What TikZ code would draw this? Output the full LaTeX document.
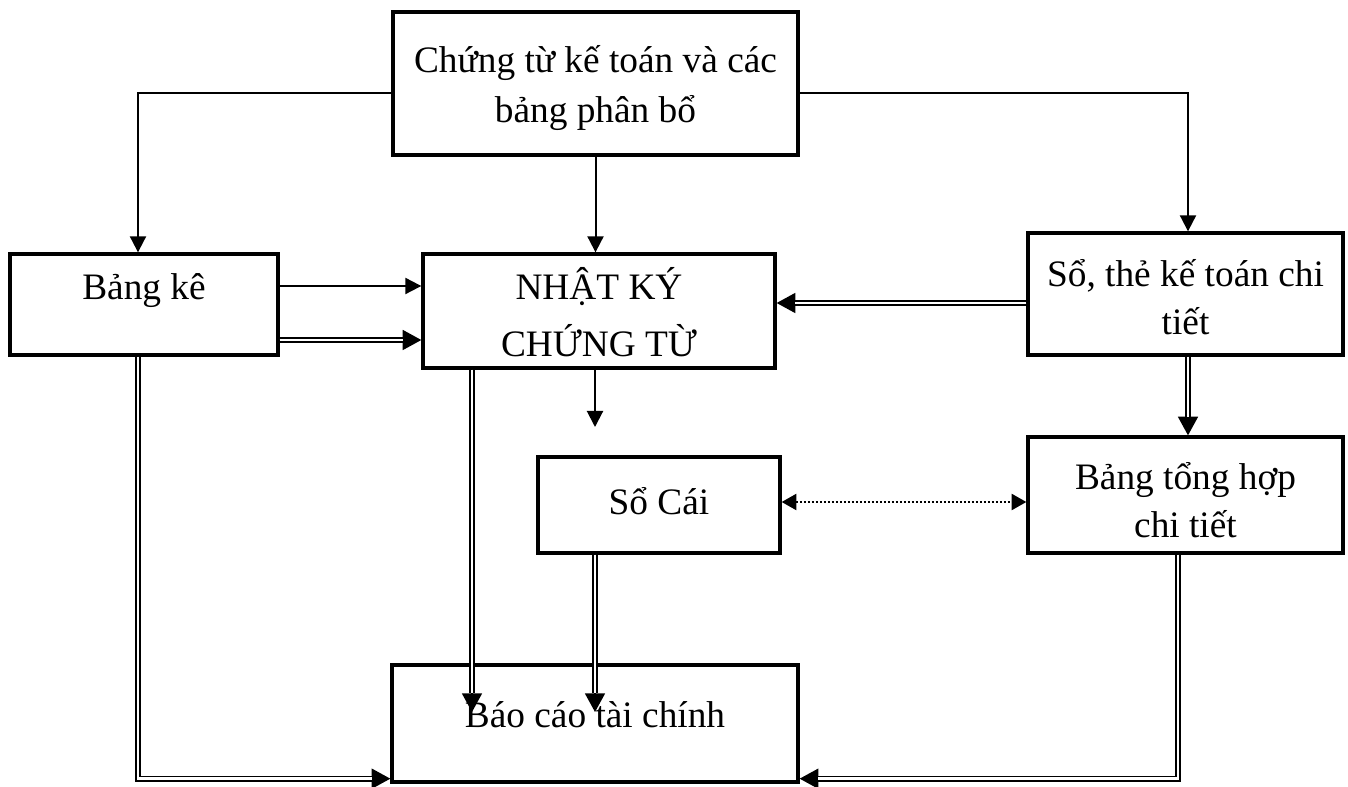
\documentclass[tikz,border=0pt]{standalone}
\usepackage{fontspec}
\setmainfont{Liberation Serif}
\usetikzlibrary{arrows.meta,calc}
\newdimen\upx \upx=0.75pt
\newcommand\dblarr[1]{\draw[dtip] #1; \draw[dbl] #1;}
\begin{document}
\begin{tikzpicture}[x=0.75pt,y=-0.75pt,
  box/.style={draw, line width=2.5pt, inner sep=0pt},
  txt/.style={font=\fontsize{28}{36.5}\selectfont, align=center, inner sep=0pt},
  arr/.style={line width=1.5pt, -{Triangle[length=12pt,width=12pt]}},
  dtip/.style={line width=1.2pt, -{Triangle[length=14pt,width=15pt]}},
  dbl/.style={line width=1.2pt, double=white, double distance=2pt, shorten >=14pt},
  dotarr/.style={line width=1.6pt, dash pattern=on 1.5pt off 1.5pt,
     {Triangle[length=11pt,width=12pt]}-{Triangle[length=11pt,width=12pt]}}]
\useasboundingbox (0,0) rectangle (1348,787);
% boxes
\node[box, minimum width=405\upx, minimum height=143\upx] (top) at (595.5,83.5) {};
\node[box, minimum width=268\upx, minimum height=101\upx] (bk) at (144,304.5) {};
\node[box, minimum width=352\upx, minimum height=114\upx] (nkct) at (599,311) {};
\node[box, minimum width=315\upx, minimum height=122\upx] (st) at (1185.5,294) {};
\node[box, minimum width=242\upx, minimum height=96\upx] (sc) at (659,505) {};
\node[box, minimum width=315\upx, minimum height=116\upx] (bth) at (1185.5,495) {};
\node[box, minimum width=406\upx, minimum height=117\upx] (bc) at (595,723.5) {};
% texts
\node[txt, font=\fontsize{28}{37.5}\selectfont] (topt) at ($(top.center)+(0,5)$) {Chứng từ kế toán và các\\bảng phân bổ};
\node[txt] (bkt) at ($(bk.center)+(0,-14)$) {Bảng kê};
\node[txt, font=\fontsize{28}{42.5}\selectfont] (nkctt) at ($(nkct.center)+(0,1)$) {NHẬT KÝ\\CHỨNG TỪ};
\node[txt] (stt) at ($(st.center)+(0,3)$) {Sổ, thẻ kế toán chi\\tiết};
\node[txt] (sct) at ($(sc.center)+(0,-4)$) {Sổ Cái};
\node[txt] (btht) at ($(bth.center)+(0,5)$) {Bảng tổng hợp\\chi tiết};
\node[txt] (bct) at ($(bc.center)+(0,-8.5)$) {Báo cáo tài chính};
% single arrows
\draw[arr] ($(top.west)+(0,9.5)$) -| ($(bk.north)+(-6,0)$);
\draw[arr] (top.south) -- (top.south |- nkct.north);
\draw[arr] ($(top.east)+(0,9.5)$) -| ($(st.north)+(2.5,0)$);
\coordinate (bk1) at ($(bk.east)+(0,-18.5)$);
\draw[arr] (bk1) -- (bk1 -| nkct.west);
\coordinate (nkend) at (595,427);
\draw[arr] (nkend |- nkct.south) -- (nkend);
% double arrows
\coordinate (bk2) at ($(bk.east)+(0,35.5)$);
\dblarr{(bk2) -- (bk2 -| nkct.west)}
\coordinate (st1) at ($(st.west)+(0,9)$);
\dblarr{(st1) -- (st1 -| nkct.east)}
\dblarr{($(st.south)+(2.5,0)$) -- ($(bth.north)+(2.5,0)$)}
\coordinate (bcin1) at (472,712);
\dblarr{(bcin1 |- nkct.south) -- (bcin1)}
\coordinate (bcin2) at (595,712);
\dblarr{(bcin2 |- sc.south) -- (bcin2)}
\coordinate (bcl) at ($(bc.south west)+(0,-5)$);
\dblarr{($(bk.south)+(-6,0)$) |- (bcl)}
\coordinate (bcr) at ($(bc.south east)+(0,-5)$);
\dblarr{($(bth.south)+(-7.5,0)$) |- (bcr)}
% dotted
\coordinate (scd) at ($(sc.east)+(0,-3)$);
\draw[dotarr] (scd) -- (scd -| bth.west);
\end{tikzpicture}
\end{document}
